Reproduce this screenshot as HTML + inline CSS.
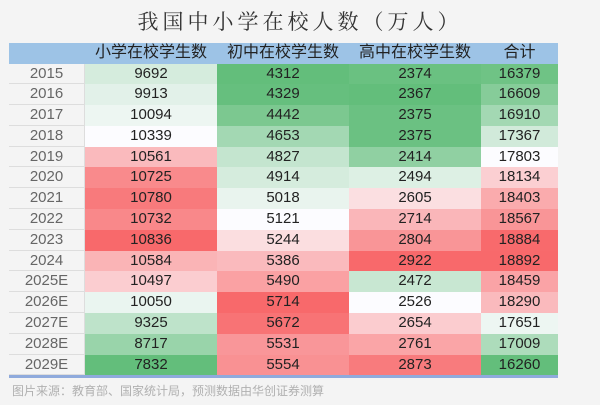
<!DOCTYPE html>
<html><head><meta charset="utf-8">
<style>
body{margin:0;background:#f4f4f4;width:600px;height:405px;overflow:hidden;font-family:"Liberation Sans","Noto Sans CJK SC",sans-serif;}
#title{position:absolute;left:0;width:600px;top:6px;text-align:center;font-family:"Liberation Serif","Noto Serif CJK SC",serif;font-size:21px;letter-spacing:4px;color:#333;}
#tbl{position:absolute;left:9px;top:43px;width:549px;}
.row{display:flex;height:20.8px;}
.cell{box-sizing:border-box;text-align:center;font-size:15px;line-height:20.8px;color:#222;}
.hdr{height:20.5px;background:#9dc3e6;}
.hdr .cell{font-size:16px;line-height:20.5px;color:#222;}
.yr{width:76px;color:#666;background:#f4f4f4;border-bottom:1px solid #ddd;border-right:1px solid #ddd;}
.c1,.c2,.c3{width:132px;}
.c4{width:77px;}
#bottom{position:absolute;left:9px;top:375px;width:549px;height:3px;background:#8faadc;}
#src{position:absolute;left:12px;top:382px;font-size:12px;color:#b0b0b0;}
</style></head><body>
<div id="title">我国中小学在校人数（万人）</div>
<div id="tbl">
<div class="row hdr">
<div class="cell yr" style="background:#9dc3e6;border:none"></div>
<div class="cell c1">小学在校学生数</div>
<div class="cell c2">初中在校学生数</div>
<div class="cell c3">高中在校学生数</div>
<div class="cell c4">合计</div>
</div>
</div>
<div id="bottom"></div>
<div id="src">图片来源：教育部、国家统计局，预测数据由华创证券测算</div>
<script>
const years=["2015","2016","2017","2018","2019","2020","2021","2022","2023","2024","2025E","2026E","2027E","2028E","2029E"];
const primary=[9692,9913,10094,10339,10561,10725,10780,10732,10836,10584,10497,10050,9325,8717,7832];
const junior=[4312,4329,4442,4653,4827,4914,5018,5121,5244,5386,5490,5714,5672,5531,5554];
const senior=[2374,2367,2375,2375,2414,2494,2605,2714,2804,2922,2472,2526,2654,2761,2873];
const total=[16379,16609,16910,17367,17803,18134,18403,18567,18884,18892,18459,18290,17651,17009,16260];
const cols=[primary,junior,senior,total];
const G=[99,190,123],W=[252,252,255],R=[248,105,107];
function median(a){const s=[...a].sort((x,y)=>x-y);const n=s.length;return n%2?s[(n-1)/2]:(s[n/2-1]+s[n/2])/2;}
function mix(a,b,t){return 'rgb('+a.map((v,i)=>Math.round(v+(b[i]-v)*t)).join(',')+')';}
function color(v,arr){const mn=Math.min(...arr),mx=Math.max(...arr),md=median(arr);
 if(v<=md)return mix(G,W,md===mn?1:(v-mn)/(md-mn));return mix(W,R,(v-md)/(mx-md));}
const tbl=document.getElementById('tbl');
years.forEach((y,i)=>{
 const r=document.createElement('div');r.className='row';
 
 
 const yc=document.createElement('div');yc.className='cell yr';yc.textContent=y;
 
 
 r.appendChild(yc);
 cols.forEach((arr,j)=>{
  const c=document.createElement('div');c.className='cell c'+(j+1);
  c.textContent=arr[i];c.style.background=color(arr[i],arr);
  
  
  r.appendChild(c);
 });
 tbl.appendChild(r);
});
</script>
</body></html>
